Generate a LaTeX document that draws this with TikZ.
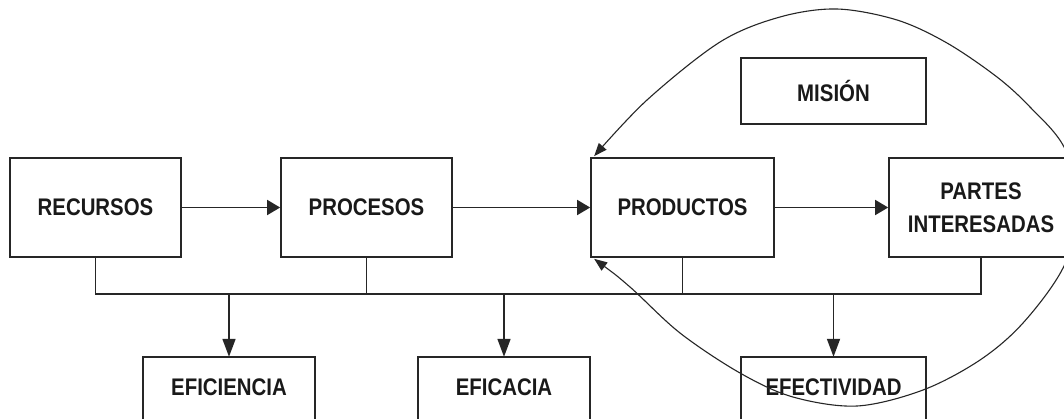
\documentclass[tikz,border=0pt]{standalone}
\usepackage{fontspec}
\setmainfont{Liberation Sans}[FakeStretch=0.85]
\usetikzlibrary{arrows.meta}
\begin{document}
\begin{tikzpicture}[x=1pt,y=-1pt,
  ink/.style={draw=black!85},
  label text/.style={font=\fontsize{24}{33}\selectfont\bfseries, text=black!90, align=center},
  box/.style={ink, line width=1.7pt, inner sep=0pt, label text},
  openbox/.style={inner sep=0pt, minimum height=60pt, label text},
  link/.style={ink, line width=1.7pt},
  harrow/.style={link, -{Triangle[length=13pt,width=15pt]}},
  varrow/.style={link, -{Triangle[length=18pt,width=13pt]}},
  ring/.style={ink, line width=1.1pt,
    {Triangle[length=13pt,width=10pt]}-{Triangle[length=13pt,width=10pt]}}]

\useasboundingbox (0,0) rectangle (1064,418);
\fill[white] (0,0) rectangle (1064,418);
\clip (0,0) rectangle (1064,418);

% main chain
\node[box, minimum width=171pt, minimum height=99pt] (rec)  at (95.5,207.5) {RECURSOS};
\node[box, minimum width=171pt, minimum height=99pt] (proc) at (366.5,207.5) {PROCESOS};
\node[box, minimum width=183pt, minimum height=99pt] (prod) at (682.5,207.5) {PRODUCTOS};
\node[box, minimum width=184pt, minimum height=99pt] (part) at (981,207.5) {PARTES\\INTERESADAS};
\node[box, minimum width=185pt, minimum height=66pt] (mis)  at (833.5,91) {MISI\'ON};

% result boxes (open at the bottom edge)
\node[openbox, minimum width=172pt] (efi) at (229,387)   {EFICIENCIA};
\node[openbox, minimum width=172pt] (efa) at (504,387)   {EFICACIA};
\node[openbox, minimum width=185pt] (efe) at (833.5,387) {EFECTIVIDAD};
\foreach \n in {efi,efa,efe}
  \draw[link] ([yshift=-15pt]\n.south west) -- (\n.north west) -- (\n.north east) -- ([yshift=-15pt]\n.south east);

% flow arrows
\draw[harrow] (rec) -- (proc);
\draw[harrow] (proc) -- (prod);
\draw[harrow] (prod) -- (part);

% collecting bus
\coordinate (bus) at (0,294);
\draw[link] (rec.south) -- (rec.south |- bus) -| (part.south);
\draw[link] (proc.south) -- (proc.south |- bus);
\draw[link] (prod.south) -- (prod.south |- bus);
\draw[varrow] (efi.north |- bus) -- (efi.north);
\draw[varrow] (efa.north |- bus) -- (efa.north);
\draw[varrow] (efe.north |- bus) -- (efe.north);

% feedback loop around the mission
\coordinate (r0) at ([shift={(4,1)}]prod.south west);
\coordinate (r1) at (630,287);
\coordinate (r2) at (680,333);
\coordinate (r3) at (740,373);
\coordinate (r4) at (793,397);
\coordinate (r5) at (857,406);
\coordinate (r6) at (923,390);
\coordinate (r7) at (980,360);
\coordinate (r8) at (1023,323);
\coordinate (r9) at (1063,268);
\coordinate (r10) at (1081,207);
\coordinate (r11) at (1064,147);
\coordinate (r12) at (1030,107);
\coordinate (r13) at (997,77);
\coordinate (r14) at (947,43);
\coordinate (r15) at (897,20);
\coordinate (r16) at (837,9);
\coordinate (r17) at (780,17);
\coordinate (r18) at (720,42);
\coordinate (r19) at (647,100);
\coordinate (r20) at ([shift={(4,-1)}]prod.north west);
\draw[ring] plot[smooth, tension=0.55] coordinates {(r0) (r1) (r2) (r3) (r4) (r5) (r6) (r7) (r8) (r9) (r10) (r11) (r12) (r13) (r14) (r15) (r16) (r17) (r18) (r19) (r20)};
\end{tikzpicture}
\end{document}
